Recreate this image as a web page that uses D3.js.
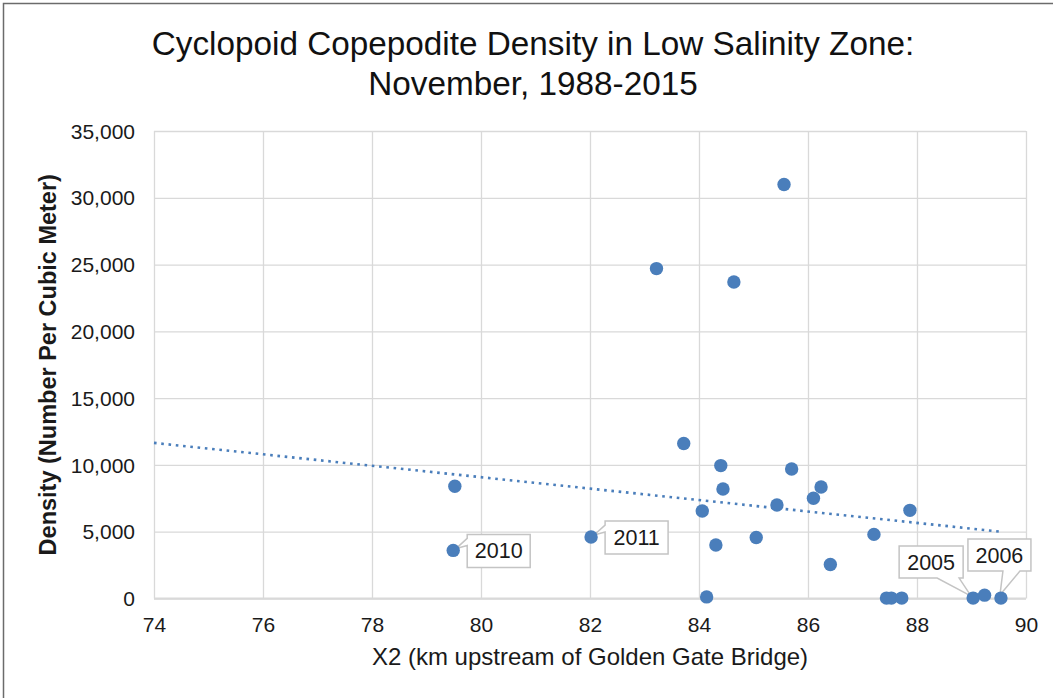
<!DOCTYPE html>
<html><head><meta charset="utf-8">
<script src="https://cdn.jsdelivr.net/npm/d3@7/dist/d3.min.js"></script>
<style>
body{margin:0;background:#fff;}
svg{display:block;font-family:"Liberation Sans",Arial,sans-serif;}
</style>
</head><body>
<svg id="chart" width="1053" height="698"></svg>
<script>
// ---- data ----
const titleLines = ["Cyclopoid Copepodite Density in Low Salinity Zone:", "November, 1988-2015"];
const xAxisTitle = "X2 (km upstream of Golden Gate Bridge)";
const yAxisTitle = "Density (Number Per Cubic Meter)";
const x2Values = [79.52, 79.49, 82.02, 83.22, 84.64, 85.56, 83.72, 84.40, 84.44, 84.06, 84.31, 84.14, 85.05,
                  85.43, 85.70, 86.10, 86.24, 86.41, 87.21, 87.87, 87.44, 87.53, 87.72, 89.03, 89.24, 89.54];
const densityValues = [8400, 3600, 4600, 24700, 23700, 31000, 11600, 9950, 8200, 6550, 4000, 120, 4570,
                  7000, 9700, 7500, 8350, 2550, 4800, 6600, 30, 30, 30, 30, 250, 30];
const pointLabels = ["", "2010", "2011", "", "", "", "", "", "", "", "", "", "",
                  "", "", "", "", "", "", "", "", "", "", "2005", "", "2006"];
const xTicks = [74, 76, 78, 80, 82, 84, 86, 88, 90];
const yTicks = [0, 5000, 10000, 15000, 20000, 25000, 30000, 35000];
const trendX = [74, 89.54];
const trendY = [11650, 5000];

// ---- layout ----
const svg = d3.select("#chart");
const W = 1053, H = 698;
const plot = {left: 154, right: 1026, top: 131, bottom: 598.5};
const blue = "#4a7ebb";
const gridColor = "#d9d9d9";
const textColor = "#1a1a1a";

svg.append("rect").attr("width", W).attr("height", H).attr("fill", "#fff");
svg.append("rect").attr("x", 3.5).attr("y", 3.5).attr("width", W + 20).attr("height", H + 20)
  .attr("fill", "none").attr("stroke", "#6b6b6b").attr("stroke-width", 1.5);

const x = d3.scaleLinear().domain([74, 90]).range([plot.left, plot.right]);
const y = d3.scaleLinear().domain([0, 35000]).range([plot.bottom, plot.top]);

// gridlines
svg.append("g").attr("transform", `translate(${plot.left},0)`)
  .call(d3.axisLeft(y).tickValues(yTicks).tickSize(-(plot.right - plot.left)).tickFormat(""))
  .call(g => g.select(".domain").remove())
  .call(g => g.selectAll("line").attr("stroke", gridColor).attr("stroke-width", 1.3));
svg.append("g").attr("transform", `translate(0,${plot.bottom})`)
  .call(d3.axisBottom(x).tickValues(xTicks).tickSize(-(plot.bottom - plot.top)).tickFormat(""))
  .call(g => g.select(".domain").remove())
  .call(g => g.selectAll("line").attr("stroke", gridColor).attr("stroke-width", 1.3));
// bottom axis line
svg.append("line").attr("x1", plot.left).attr("x2", plot.right).attr("y1", plot.bottom).attr("y2", plot.bottom)
  .attr("stroke", gridColor).attr("stroke-width", 2);

// tick labels
const fmt = d3.format(",");
svg.append("g").attr("transform", `translate(${plot.left},0)`)
  .call(d3.axisLeft(y).tickValues(yTicks).tickSize(0).tickPadding(19).tickFormat(d => fmt(d)))
  .call(g => g.select(".domain").remove())
  .call(g => g.selectAll("text").attr("font-size", 21).attr("fill", textColor)
    .attr("font-family", '"Liberation Sans",Arial,sans-serif').attr("dy", "0.34em"));
svg.append("g").attr("transform", `translate(0,${plot.bottom})`)
  .call(d3.axisBottom(x).tickValues(xTicks).tickSize(0).tickFormat(d => d))
  .call(g => g.select(".domain").remove())
  .call(g => g.selectAll("text").attr("font-size", 21).attr("fill", textColor)
    .attr("font-family", '"Liberation Sans",Arial,sans-serif').attr("y", 33).attr("dy", 0));

// titles
svg.append("text").attr("text-anchor", "middle").attr("font-size", 33.3).attr("fill", "#111")
  .selectAll("tspan").data(titleLines).join("tspan")
  .attr("x", 533).attr("y", (d, i) => 55 + i * 40).text(d => d);
svg.append("text").attr("x", (plot.left + plot.right) / 2).attr("y", 665).attr("text-anchor", "middle")
  .attr("font-size", 24).attr("fill", textColor).text(xAxisTitle);
svg.append("text").attr("transform", `translate(56,${(plot.top + plot.bottom) / 2}) rotate(-90)`)
  .attr("text-anchor", "middle").attr("font-size", 23.5).attr("font-weight", "bold")
  .attr("fill", textColor).text(yAxisTitle);

// trend line
svg.append("path").datum(d3.zip(trendX, trendY))
  .attr("d", d3.line().x(d => x(d[0])).y(d => y(d[1])))
  .attr("fill", "none").attr("stroke", blue).attr("stroke-width", 2.6)
  .attr("stroke-dasharray", "2.6,4.7");

// points
const pts = x2Values.map((v, i) => ({x: v, y: densityValues[i], label: pointLabels[i]}));

// callouts (placement relative to the point)
const calloutStyle = {
  "2010": {dx: 14, dy: -16, w: 63, h: 33, side: "left", a: 4, b: 11, tx: 3, ty: -2},
  "2011": {dx: 14, dy: -16, w: 63, h: 33, side: "left", a: 4, b: 11, tx: 3, ty: -2},
  "2005": {dx: -74, dy: -52, w: 64, h: 32, side: "bottom", a: 38, b: 60, tx: -2, ty: -2},
  "2006": {dx: -33, dy: -59, w: 63, h: 32, side: "bottom", a: 35, b: 52, tx: -1, ty: -3}
};
function calloutPath(bx, by, w, h, s, tipX, tipY) {
  if (s.side === "left") {
    return `M${bx},${by}H${bx + w}V${by + h}H${bx}V${by + s.b}L${tipX},${tipY}L${bx},${by + s.a}Z`;
  }
  return `M${bx},${by}H${bx + w}V${by + h}H${bx + s.b}L${tipX},${tipY}L${bx + s.a},${by + h}H${bx}Z`;
}
const labeled = pts.filter(p => p.label);
const cg = svg.append("g").selectAll("g").data(labeled).join("g");
cg.append("path").attr("d", p => {
    const s = calloutStyle[p.label], px = x(p.x), py = y(p.y);
    return calloutPath(px + s.dx, py + s.dy, s.w, s.h, s, px + s.tx, py + s.ty);
  }).attr("fill", "#fff").attr("stroke", "#c4c4c4").attr("stroke-width", 1.5);
cg.append("text").attr("x", p => x(p.x) + calloutStyle[p.label].dx + calloutStyle[p.label].w / 2)
  .attr("y", p => y(p.y) + calloutStyle[p.label].dy + calloutStyle[p.label].h / 2 + 7.5)
  .attr("text-anchor", "middle").attr("font-size", 21.5).attr("fill", textColor).text(p => p.label);

svg.append("g").selectAll("circle").data(pts).join("circle")
  .attr("cx", p => x(p.x)).attr("cy", p => y(p.y)).attr("r", 6.7).attr("fill", blue);
</script>
</body></html>
